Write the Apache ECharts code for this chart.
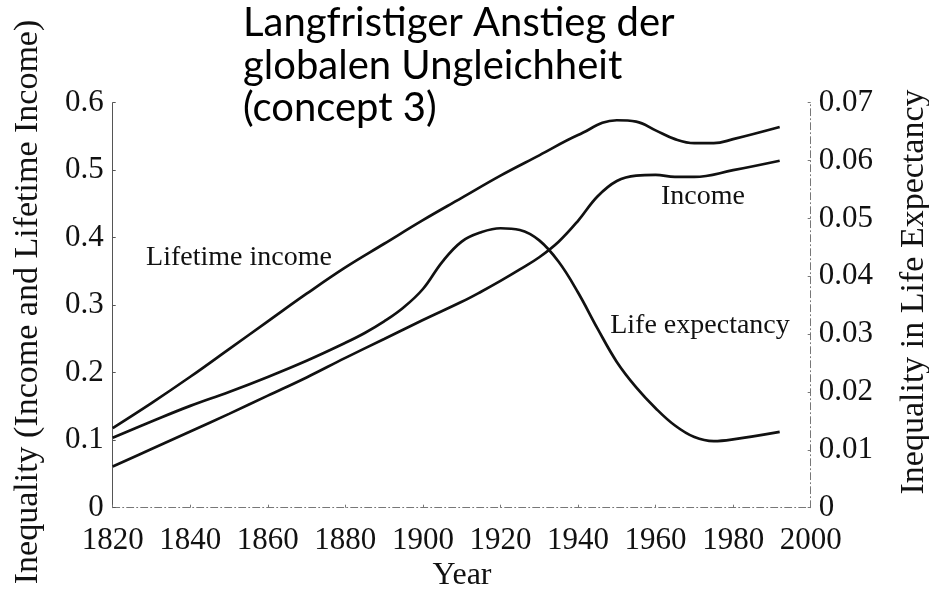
<!DOCTYPE html>
<html>
<head>
<meta charset="utf-8">
<style>
  html, body { margin: 0; padding: 0; background: #fff; }
  #chart { width: 929px; height: 594px; }
</style>
<script src="https://cdn.jsdelivr.net/npm/echarts@6/dist/echarts.min.js"></script>
</head>
<body>
<div id="chart"></div>
<script>
// Global inequality 1820–1992: income and lifetime income (left axis),
// life expectancy (right axis).
const lifetimeYears = [1820, 1830, 1840, 1850, 1860, 1870, 1880, 1890, 1900, 1910, 1920, 1930, 1940, 1950, 1955, 1960, 1965, 1970, 1975, 1980, 1992];
const lifetimeIncome = [0.118, 0.155, 0.194, 0.235, 0.276, 0.317, 0.356, 0.391, 0.426, 0.459, 0.492, 0.522, 0.552, 0.574, 0.572, 0.559, 0.546, 0.540, 0.540, 0.546, 0.564];

const incomeYears = [1820, 1830, 1840, 1850, 1860, 1870, 1880, 1890, 1900, 1910, 1915, 1920, 1925, 1930, 1935, 1940, 1945, 1950, 1955, 1960, 1965, 1970, 1980, 1992];
const income = [0.061, 0.087, 0.113, 0.139, 0.166, 0.193, 0.222, 0.250, 0.278, 0.305, 0.320, 0.336, 0.353, 0.371, 0.394, 0.425, 0.461, 0.484, 0.492, 0.493, 0.490, 0.490, 0.500, 0.514];

const lifeYears = [1820, 1830, 1840, 1850, 1860, 1870, 1880, 1885, 1890, 1895, 1900, 1905, 1910, 1915, 1920, 1925, 1930, 1935, 1940, 1945, 1950, 1955, 1960, 1965, 1970, 1975, 1980, 1992];
const lifeExpectancy = [0.0121, 0.0149, 0.0176, 0.0200, 0.0226, 0.0254, 0.0285, 0.0302, 0.0322, 0.0346, 0.0378, 0.0425, 0.0460, 0.0476, 0.0483, 0.0480, 0.0462, 0.0425, 0.0372, 0.0310, 0.0252, 0.0208, 0.0172, 0.0142, 0.0122, 0.0115, 0.0118, 0.0131];

const titleLines = ['Langfristiger Anstieg der', 'globalen Ungleichheit', '(concept 3)'];
const leftTitle = 'Inequality (Income and Lifetime Income)';
const rightTitle = 'Inequality in Life Expectancy';
const xTitle = 'Year';

const zip = (xs, ys) => xs.map((x, i) => [x, ys[i]]);

const serif = '"Liberation Serif", "DejaVu Serif", serif';
const tickFont = { fontFamily: serif, fontSize: 31, color: '#111' };
const dashDot = [7, 3, 1, 3];

const chart = echarts.init(document.getElementById('chart'), null, { renderer: 'canvas' });

const lineStyle = { color: '#111', width: 2.7 };

chart.setOption({
  animation: false,
  grid: { left: 112.7, right: 118.3, top: 102.7, bottom: 86.3, containLabel: false },
  xAxis: {
    type: 'value', min: 1820, max: 2000, interval: 20,
    axisLine: { show: true, lineStyle: { color: '#777', width: 1, type: dashDot } },
    axisTick: { show: true, inside: true, length: 3, lineStyle: { color: '#777' } },
    splitLine: { show: false },
    axisLabel: Object.assign({ margin: 18, formatter: v => String(v) }, tickFont)
  },
  yAxis: [
    {
      type: 'value', min: 0, max: 0.6, interval: 0.1, position: 'left',
      axisLine: { show: true, lineStyle: { color: '#555', width: 1 } },
      axisTick: { show: true, inside: true, length: 3, lineStyle: { color: '#555' } },
      splitLine: { show: false },
      axisLabel: Object.assign({ margin: 9, formatter: v => v === 0 ? '0' : v.toFixed(1) }, tickFont)
    },
    {
      type: 'value', min: 0, max: 0.07, interval: 0.01, position: 'right',
      axisLine: { show: true, lineStyle: { color: '#777', width: 1, type: dashDot } },
      axisTick: { show: true, inside: true, length: 3, lineStyle: { color: '#777' } },
      splitLine: { show: false },
      axisLabel: Object.assign({ margin: 8, formatter: v => v === 0 ? '0' : v.toFixed(2) }, tickFont)
    }
  ],
  series: [
    { name: 'Lifetime income', type: 'line', yAxisIndex: 0, data: zip(lifetimeYears, lifetimeIncome),
      smooth: 0.4, showSymbol: false, lineStyle },
    { name: 'Income', type: 'line', yAxisIndex: 0, data: zip(incomeYears, income),
      smooth: 0.4, showSymbol: false, lineStyle },
    { name: 'Life expectancy', type: 'line', yAxisIndex: 1, data: zip(lifeYears, lifeExpectancy),
      smooth: 0.4, showSymbol: false, lineStyle }
  ],
  graphic: [
    {
      type: 'text', left: 243, top: 2,
      style: {
        text: titleLines.join('\n'), fontFamily: 'Lato, "Open Sans", sans-serif',
        fontSize: 40, lineHeight: 42.5, fill: '#000'
      }
    },
    {
      type: 'text', x: 28, y: 302, rotation: Math.PI / 2,
      style: { text: leftTitle, fontFamily: serif, fontSize: 34, fill: '#111', align: 'center', verticalAlign: 'middle' }
    },
    {
      type: 'text', x: 914, y: 292, rotation: Math.PI / 2,
      style: { text: rightTitle, fontFamily: serif, fontSize: 34, fill: '#111', align: 'center', verticalAlign: 'middle' }
    },
    {
      type: 'text', x: 462, y: 576,
      style: { text: xTitle, fontFamily: serif, fontSize: 32, fill: '#111', align: 'center', verticalAlign: 'middle' }
    },
    {
      type: 'text', x: 239, y: 258,
      style: { text: 'Lifetime income', fontFamily: serif, fontSize: 28, fill: '#111', align: 'center', verticalAlign: 'middle' }
    },
    {
      type: 'text', x: 703, y: 197,
      style: { text: 'Income', fontFamily: serif, fontSize: 28, fill: '#111', align: 'center', verticalAlign: 'middle' }
    },
    {
      type: 'text', x: 700, y: 326,
      style: { text: 'Life expectancy', fontFamily: serif, fontSize: 28, fill: '#111', align: 'center', verticalAlign: 'middle' }
    }
  ]
});
</script>
</body>
</html>
